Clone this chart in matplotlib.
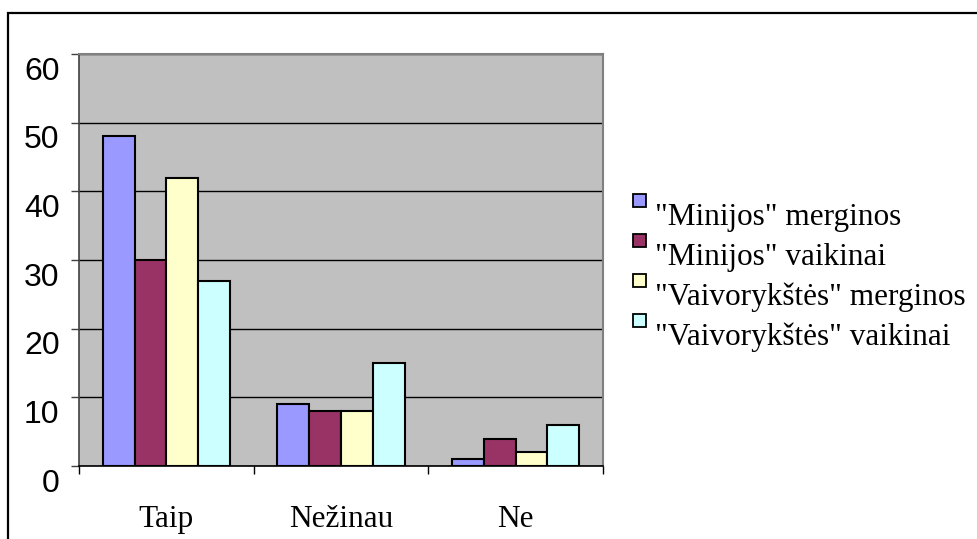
import matplotlib
matplotlib.use("Agg")
import matplotlib.pyplot as plt
import numpy as np
from matplotlib.patches import Rectangle
from matplotlib.transforms import ScaledTranslation

categories = ["Taip", "Nežinau", "Ne"]
series_names = ['"Minijos" merginos', '"Minijos" vaikinai',
                '"Vaivorykštės" merginos', '"Vaivorykštės" vaikinai']
minijos_merginos = [48, 9, 1]
minijos_vaikinai = [30, 8, 4]
vaivorykstes_merginos = [42, 8, 2]
vaivorykstes_vaikinai = [27, 15, 6]
series = [minijos_merginos, minijos_vaikinai, vaivorykstes_merginos, vaivorykstes_vaikinai]
colors = ["#9999FF", "#993366", "#FFFFCC", "#CCFFFF"]
yticks = [0, 10, 20, 30, 40, 50, 60]

W, H = 977, 539
fig = plt.figure(figsize=(W / 100, H / 100), dpi=100)

# outer frame (top and left edges visible)
fig.patches.append(Rectangle((8 / W, -0.1), 1.2, (H - 13) / H + 0.1,
                             transform=fig.transFigure, fill=False,
                             edgecolor="black", linewidth=1.6, zorder=0))

ax_l, ax_r, ax_t, ax_b = 79, 603, 54, 466
ax = fig.add_axes([ax_l / W, (H - ax_b) / H, (ax_r - ax_l) / W, (ax_b - ax_t) / H])
ax.set_facecolor("#C0C0C0")

n = len(categories)
bw = 1 / 5.5
x0 = np.arange(n) + 0.5
for i, (vals, c) in enumerate(zip(series, colors)):
    ax.bar(x0 + (i - 1.5) * bw, vals, width=bw, color=c, edgecolor="black",
           linewidth=1.5, zorder=3, label=series_names[i])

ax.set_xlim(0, n)
ax.set_ylim(0, 60)
ax.set_yticks(yticks)
ax.yaxis.grid(True, color="black", linewidth=1.0, zorder=1)
ax.set_axisbelow(True)

for s in ["top", "right"]:
    ax.spines[s].set_color("#808080")
    ax.spines[s].set_linewidth(1.5)
ax.spines["left"].set_color("#404040")
ax.spines["left"].set_linewidth(1.2)
ax.spines["bottom"].set_color("black")
ax.spines["bottom"].set_linewidth(1.2)

ax.set_xticks(np.arange(n + 1))
ax.set_xticklabels([])
ax.tick_params(axis="x", which="major", length=6, width=1.0, color="black", direction="out")
ax.set_xticks(x0, minor=True)
ax.set_xticklabels(categories, minor=True, fontfamily="Liberation Serif", fontsize=22.5)
ax.tick_params(axis="x", which="minor", length=0, pad=28)

ax.set_yticklabels([str(v) for v in yticks], fontfamily="Liberation Sans", fontsize=23)
ax.tick_params(axis="y", length=6, width=1.0, color="#404040", pad=8)
off = ScaledTranslation(0, -14 / 100, fig.dpi_scale_trans)
for lab in ax.get_yticklabels():
    lab.set_transform(lab.get_transform() + off)

# legend drawn manually
leg_x = 633
leg_y0 = 194
leg_dy = 40
for i, (name, c) in enumerate(zip(series_names, colors)):
    ytop = leg_y0 + i * leg_dy
    fig.patches.append(Rectangle((leg_x / W, (H - ytop - 13) / H), 13 / W, 13 / H,
                                 transform=fig.transFigure, facecolor=c,
                                 edgecolor="black", linewidth=1.3))
    fig.text((leg_x + 22) / W, (H - ytop - 31) / H, name, fontfamily="Liberation Serif",
             fontsize=22.5, va="baseline", ha="left")

fig.savefig("out.png", dpi=100)
